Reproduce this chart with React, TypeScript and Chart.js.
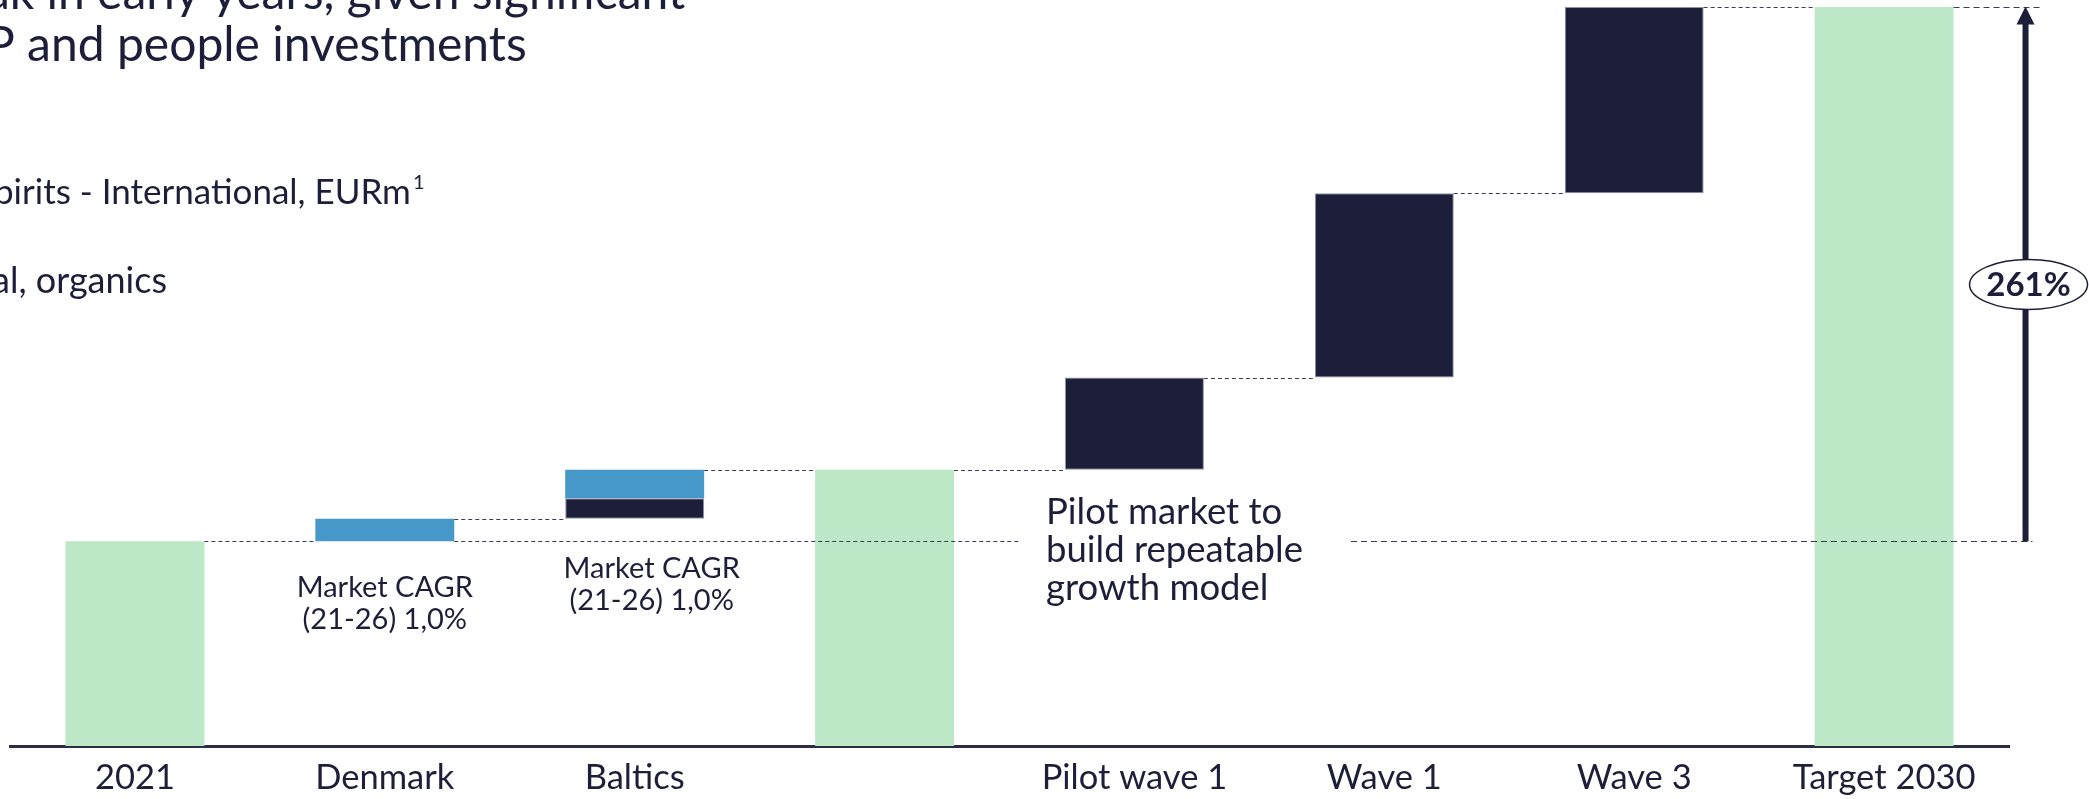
import React, { useEffect, useRef } from "react";
import { Chart, registerables } from "chart.js";
Chart.register(...registerables);

// ---------- data ----------
const categories = ["2021", "Denmark", "Baltics", "", "Pilot wave 1", "Wave 1", "Wave 3", "Target 2030"];
// totals (green bars); null where the step is an increment
const totalValues: (number | null)[] = [100, null, null, 135, null, null, null, 361];
// market growth increments (blue)
const marketDeltas: (number | null)[] = [null, 11, 14, null, null, null, null, null];
// initiative increments (navy), drawn below the blue part in the same column
const initiativeDeltas: (number | null)[] = [null, null, 10, null, 45, 90, 91, null];
const growthLabel = "261%";
const titleLines = ["ak in early years, given significant", "P and people investments"];
const subtitleLines = ["pirits - International, EURm", "al, organics"];
const cagrNote = ["Market CAGR", "(21-26) 1,0%"];
const pilotNote = ["Pilot market to", "build repeatable", "growth model"];

// ---------- styles ----------
const GREEN = "#bde8c8";
const BLUE = "#4698c9";
const NAVY = "#1d1f3a";
const FONT = "Lato, 'Open Sans', sans-serif";

// build floating ranges
const greenData: ([number, number] | null)[] = [];
const blueData: ([number, number] | null)[] = [];
const navyData: ([number, number] | null)[] = [];
const tops: number[] = [];
{
  let level = 0;
  categories.forEach((_, i) => {
    const t = totalValues[i];
    if (t != null) {
      greenData.push([0, t]);
      blueData.push(null);
      navyData.push(null);
      level = t;
    } else {
      greenData.push(null);
      const n = initiativeDeltas[i];
      if (n != null) {
        navyData.push([level, level + n]);
        level += n;
      } else navyData.push(null);
      const b = marketDeltas[i];
      if (b != null) {
        blueData.push([level, level + b]);
        level += b;
      } else blueData.push(null);
    }
    tops.push(level);
  });
}

const BAR_PCT = 0.556;

const overlay = {
  id: "overlay",
  afterDatasetsDraw(chart: any) {
    const { ctx, scales } = chart;
    const x = scales.x;
    const y = scales.y;
    const catW = x.width / categories.length;
    const bw = catW * BAR_PCT;
    const cx = (i: number) => x.getPixelForValue(i);
    const left = (i: number) => cx(i) - bw / 2;
    const right = (i: number) => cx(i) + bw / 2;
    const n = categories.length;

    ctx.save();
    // connectors
    ctx.strokeStyle = "#3b3d55";
    ctx.lineWidth = 1;
    ctx.setLineDash([4, 3]);
    for (let i = 0; i < n - 1; i++) {
      const yy = Math.round(y.getPixelForValue(tops[i])) + 0.5;
      ctx.beginPath();
      ctx.moveTo(right(i), yy);
      ctx.lineTo(left(i + 1), yy);
      ctx.stroke();
    }
    // baseline reference line at 2021 level
    const baseY = Math.round(y.getPixelForValue(totalValues[0] as number)) + 0.5;
    const noteX = left(4) - 19;
    ctx.beginPath();
    ctx.moveTo(right(1), baseY);
    ctx.lineTo(noteX - 26, baseY);
    ctx.stroke();

    const arrowX = right(n - 1) + 72;
    ctx.setLineDash([6, 4]);
    ctx.beginPath();
    ctx.moveTo(noteX + 305, baseY);
    ctx.lineTo(arrowX + 7, baseY);
    ctx.stroke();
    const topY = Math.round(y.getPixelForValue(tops[n - 1])) + 0.5;
    ctx.beginPath();
    ctx.moveTo(right(n - 1), topY);
    ctx.lineTo(arrowX + 15, topY);
    ctx.stroke();
    ctx.setLineDash([]);

    // arrow
    ctx.strokeStyle = NAVY;
    ctx.fillStyle = NAVY;
    ctx.lineWidth = 6;
    ctx.beginPath();
    ctx.moveTo(arrowX, baseY);
    ctx.lineTo(arrowX, topY + 14);
    ctx.stroke();
    ctx.beginPath();
    ctx.moveTo(arrowX, topY - 1);
    ctx.lineTo(arrowX - 9, topY + 17);
    ctx.lineTo(arrowX + 9, topY + 17);
    ctx.closePath();
    ctx.fill();

    // ellipse label
    const ey = (baseY + topY) / 2 + 10;
    const ex = arrowX + 3;
    ctx.beginPath();
    ctx.ellipse(ex, ey, 59, 25, 0, 0, Math.PI * 2);
    ctx.fillStyle = "#ffffff";
    ctx.fill();
    ctx.lineWidth = 1.5;
    ctx.strokeStyle = NAVY;
    ctx.stroke();
    ctx.fillStyle = NAVY;
    ctx.font = `bold 33px ${FONT}`;
    ctx.textAlign = "center";
    ctx.textBaseline = "middle";
    ctx.fillText(growthLabel, ex, ey + 1);

    // notes
    ctx.font = `29px ${FONT}`;
    ctx.textAlign = "center";
    const dTop = y.getPixelForValue(totalValues[0] as number);
    cagrNote.forEach((t, k) => ctx.fillText(t, cx(1), dTop + 46 + k * 32));
    cagrNote.forEach((t, k) => ctx.fillText(t, cx(2) + 17, dTop + 27 + k * 32));
    ctx.font = `36.5px ${FONT}`;
    ctx.textAlign = "left";
    pilotNote.forEach((t, k) => ctx.fillText(t, noteX, dTop - 29 + k * 38));

    // header texts (cropped on the left)
    ctx.textBaseline = "alphabetic";
    ctx.font = `48px ${FONT}`;
    ctx.fillText(titleLines[0], -14, 9);
    ctx.fillText(titleLines[1], -14, 61);
    ctx.font = `35px ${FONT}`;
    ctx.fillText(subtitleLines[0], -6, 204);
    const w = ctx.measureText(subtitleLines[0]).width;
    ctx.font = `20px ${FONT}`;
    ctx.fillText("1", -6 + w + 2, 189);
    ctx.font = `36px ${FONT}`;
    ctx.fillText(subtitleLines[1], -8, 293);
    ctx.restore();
  },
};

export default function App() {
  const ref = useRef<HTMLCanvasElement | null>(null);
  useEffect(() => {
    if (!ref.current) return;
    const chart = new Chart(ref.current, {
      type: "bar",
      data: {
        labels: categories,
        datasets: [
          { label: "Total", data: greenData as any, backgroundColor: GREEN, borderWidth: 0, grouped: false, barPercentage: BAR_PCT, categoryPercentage: 1 },
          { label: "Initiatives", data: navyData as any, backgroundColor: NAVY, borderColor: "#8f91a6", borderWidth: 1, borderSkipped: false, grouped: false, barPercentage: BAR_PCT, categoryPercentage: 1 },
          { label: "Market", data: blueData as any, backgroundColor: BLUE, borderWidth: 0, grouped: false, barPercentage: BAR_PCT, categoryPercentage: 1 },
        ],
      },
      options: {
        responsive: false,
        animation: false,
        layout: { padding: { left: 10, right: 80, top: 7, bottom: 0 } },
        plugins: { legend: { display: false }, tooltip: { enabled: false } },
        scales: {
          x: {
            grid: { display: false, drawTicks: false },
            border: { display: true, color: "#2c2e47", width: 3 },
            ticks: { color: NAVY, font: { family: FONT, size: 34.5 }, padding: 11, maxRotation: 0, autoSkip: false },
            afterFit: (s: any) => { s.height = 53; },
          },
          y: { display: false, min: 0, max: Math.max(...tops) },
        },
      },
      plugins: [overlay],
    });
    return () => chart.destroy();
  }, []);
  return (
    <div style={{ position: "fixed", left: 0, top: 0, width: 2089, height: 799, background: "#fff" }}>
      <canvas ref={ref} width={2089} height={799} style={{ display: "block" }} />
    </div>
  );
}
